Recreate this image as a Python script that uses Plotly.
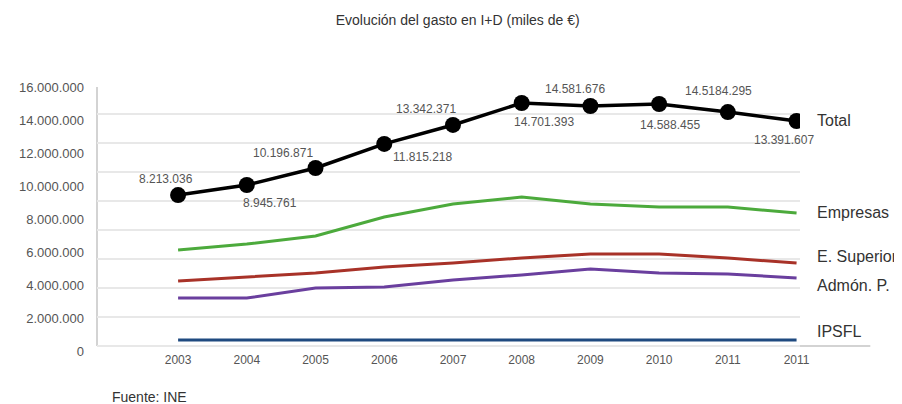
import plotly.graph_objects as go

years = ["2003", "2004", "2005", "2006", "2007", "2008", "2009", "2010", "2011", "2011"]
total = [9.45e6, 10.06e6, 11.09e6, 12.55e6, 13.70e6, 15.03e6, 14.85e6, 14.97e6, 14.48e6, 13.94e6]
total_labels = ["8.213.036", "8.945.761", "10.196.871", "11.815.218", "13.342.371",
                "14.701.393", "14.581.676", "14.588.455", "14.5184.295", "13.391.607"]
empresas = [6.12e6, 6.48e6, 6.97e6, 8.12e6, 8.91e6, 9.33e6, 8.91e6, 8.73e6, 8.73e6, 8.36e6]
e_superior = [4.24e6, 4.48e6, 4.73e6, 5.09e6, 5.33e6, 5.64e6, 5.88e6, 5.88e6, 5.64e6, 5.33e6]
admon = [3.21e6, 3.21e6, 3.82e6, 3.88e6, 4.30e6, 4.61e6, 4.97e6, 4.73e6, 4.67e6, 4.42e6]
ipsfl = [0.67e6] * 10
y_ticks = [0, 2e6, 4e6, 6e6, 8e6, 10e6, 12e6, 14e6, 16e6]
y_ticktext = ["0", "2.000.000", "4.000.000", "6.000.000", "8.000.000",
              "10.000.000", "12.000.000", "14.000.000", "16.000.000"]

xs = list(range(len(years)))

# styling for label offsets (pixels)
label_dx = [-12, 23, -33, 38, -27, 22, -15, 11, -9, -13]
label_dy = [16, -18, 15, -13, 16, -19, 17, -21, 21, -19]

FONT = "Liberation Sans, Arial, sans-serif"

fig = go.Figure()

# invisible trace to activate gridline axis
fig.add_trace(go.Scatter(x=[0], y=[0], yaxis="y2", mode="markers",
                         marker=dict(opacity=0), hoverinfo="skip", showlegend=False))

series = [
    ("IPSFL", ipsfl, "#1f4a80", 8),
    ("Admón. P.", admon, "#6a3f9e", -7),
    ("E. Superior", e_superior, "#a83228", 7),
    ("Empresas", empresas, "#4caa3c", 1),
]
for name, vals, color, dy in series:
    fig.add_trace(go.Scatter(x=xs, y=vals, mode="lines", name=name,
                             line=dict(color=color, width=3), showlegend=False))
    fig.add_annotation(x=xs[-1], y=vals[-1], text=name, showarrow=False,
                       xanchor="left", xshift=18, yshift=dy,
                       font=dict(family=FONT, size=16, color="#333"))

fig.add_trace(go.Scatter(x=xs, y=total, mode="lines+markers", name="Total",
                         line=dict(color="#000", width=3.5),
                         marker=dict(color="#000", size=16), showlegend=False))
fig.add_annotation(x=xs[-1], y=total[-1], text="Total", showarrow=False,
                   xanchor="left", xshift=18, yshift=0,
                   font=dict(family=FONT, size=16, color="#333"))

for i, (x, y, t) in enumerate(zip(xs, total, total_labels)):
    fig.add_annotation(x=x, y=y, text=t, showarrow=False,
                       xshift=label_dx[i], yshift=label_dy[i],
                       font=dict(family=FONT, size=12, color="#555"))

# pixel geometry of grid axis: 0 at 5px above plot bottom, 2M every 29px, plot 264px tall
px_per_unit = 29 / 2e6
y2_bottom = -5 / px_per_unit
y2_top = y2_bottom + 264 / px_per_unit

fig.update_layout(
    width=894, height=396,
    margin=dict(l=89, r=102, t=79, b=53),
    paper_bgcolor="white", plot_bgcolor="white",
    title=dict(text="Evolución del gasto en I+D (miles de €)", x=0.503, xanchor="center",
               y=0.97, yanchor="middle",
               font=dict(family=FONT, size=14, color="#333")),
    xaxis=dict(range=[-1.18, 9.05], tickvals=xs, ticktext=years,
               showgrid=False, zeroline=False, showline=False, ticks="",
               tickfont=dict(family=FONT, size=12, color="#555")),
    yaxis=dict(range=[0, 16e6], tickvals=y_ticks, ticktext=y_ticktext,
               showgrid=False, zeroline=False, showline=False, ticks="",
               ticklabelstandoff=12,
               tickfont=dict(family=FONT, size=13, color="#555")),
    yaxis2=dict(overlaying="y", range=[y2_bottom, y2_top], tick0=0, dtick=2e6,
                showgrid=True, gridcolor="#e8e8e8", gridwidth=1.5,
                showticklabels=False, zeroline=False, showline=False, ticks=""),
    shapes=[
        dict(type="line", xref="paper", yref="y2", x0=0, x1=1.1, y0=0, y1=0,
             line=dict(color="#c4c4c4", width=1.5), layer="below"),
        dict(type="line", xref="paper", yref="y2", x0=0, x1=0, y0=0, y1=y2_top,
             line=dict(color="#c4c4c4", width=1.5), layer="below"),
    ],
)
fig.add_annotation(xref="paper", yref="paper", x=0.0185, y=-0.175, xanchor="left",
                   yanchor="middle", text="Fuente: INE", showarrow=False,
                   font=dict(family=FONT, size=14, color="#333"))

fig.write_html("out.html")
